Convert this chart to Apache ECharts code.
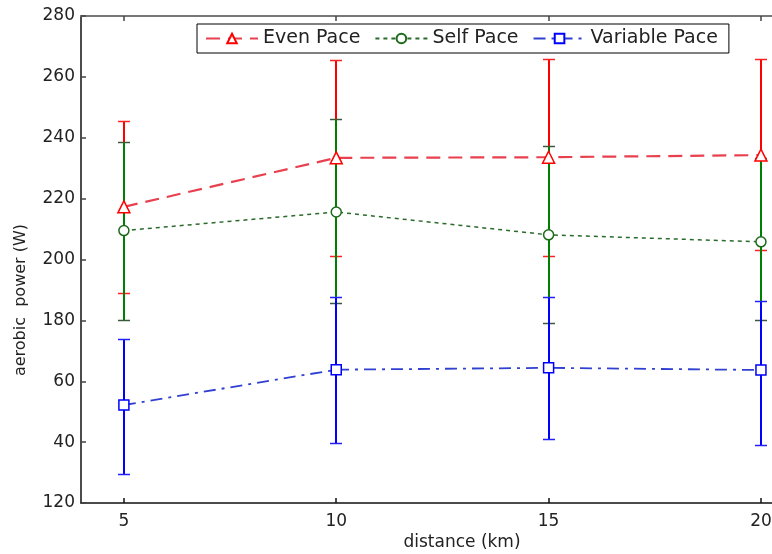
<!DOCTYPE html>
<html>
<head>
<meta charset="utf-8">
<script src="https://cdn.jsdelivr.net/npm/echarts@6/dist/echarts.min.js"></script>
<style>html,body{margin:0;padding:0;background:#fff;overflow:hidden;}#c{width:772px;height:554px;}</style>
</head>
<body>
<div id="c"></div>
<script>
var distances = [5, 10, 15, 20];
var evenPace = [217.3, 233.4, 233.6, 234.3];
var evenLow  = [189.0, 201.3, 201.2, 203.0];
var evenHigh = [245.6, 265.4, 266.0, 266.0];
var selfPace = [209.5, 215.6, 208.1, 205.8];
var selfLow  = [180.1, 185.7, 179.1, 180.1];
var selfHigh = [238.7, 246.2, 237.3, 233.5];
var variablePace = [152.2, 163.8, 164.4, 163.7];
var variableLow  = [129.5, 139.7, 141.0, 139.0];
var variableHigh = [173.9, 187.7, 187.7, 186.5];
var xTickValues = [5, 10, 15, 20];
var yTickValues = [120, 140, 160, 180, 200, 220, 240, 260, 280];
var yTickLabels = ['120', '40', '60', '180', '200', '220', '240', '260', '280'];
var seriesNames = ['Even Pace', 'Self Pace', 'Variable Pace'];

var FONT = '"DejaVu Sans", "Liberation Sans", Arial, sans-serif';

function pts(ys) { return distances.map(function (x, i) { return [x, ys[i]]; }); }
function errData(lo, hi) { return distances.map(function (x, i) { return [x, lo[i], hi[i]]; }); }

function errSeries(name, lo, hi, color, capColor) {
  return {
    type: 'custom',
    name: name + ' err',
    data: errData(lo, hi),
    silent: true,
    z: 2,
    renderItem: function (params, api) {
      var x = api.value(0);
      var pLo = api.coord([x, api.value(1)]);
      var pHi = api.coord([x, api.value(2)]);
      var cx = Math.round(pLo[0]);
      var yHi = Math.round(pHi[1]) + 0.5;
      var yLo = Math.round(pLo[1]) + 0.5;
      var hw = 6;
      return {
        type: 'group',
        children: [
          { type: 'line', shape: { x1: cx, y1: yLo, x2: cx, y2: yHi }, style: { stroke: color, lineWidth: 2 } },
          { type: 'line', shape: { x1: cx - hw, y1: yHi, x2: cx + hw, y2: yHi }, style: { stroke: capColor, lineWidth: 1.5 } },
          { type: 'line', shape: { x1: cx - hw, y1: yLo, x2: cx + hw, y2: yLo }, style: { stroke: capColor, lineWidth: 1.5 } }
        ]
      };
    }
  };
}

var chart = echarts.init(document.getElementById('c'), null, { renderer: 'canvas' });
chart.setOption({
  animation: false,
  backgroundColor: '#fff',
  grid: { left: 81, right: 0, top: 16, bottom: 51, containLabel: false, outerBoundsMode: 'none' },
  legend: {
    left: 197, top: 24,
    orient: 'horizontal',
    backgroundColor: '#fff',
    borderColor: '#000', borderWidth: 1, borderRadius: 0,
    padding: [5, 11, 5, 8],
    itemWidth: 52, itemHeight: 12, itemGap: 14,
    data: seriesNames,
    textStyle: { fontFamily: FONT, fontSize: 19, color: '#222' }
  },
  xAxis: [{
    type: 'value', min: 3.99, max: 20.26, position: 'bottom',
    axisLine: { show: true, onZero: false, lineStyle: { color: '#111', width: 1.5 } },
    axisTick: { show: true, inside: true, length: 5, customValues: xTickValues, lineStyle: { color: '#111', width: 1.5 } },
    axisLabel: { show: true, customValues: xTickValues, fontFamily: FONT, fontSize: 17, color: '#222', margin: 10, hideOverlap: false },
    splitLine: { show: false }
  }, {
    type: 'value', min: 3.99, max: 20.26, position: 'top',
    axisLine: { show: true, onZero: false, lineStyle: { color: '#777', width: 2 } },
    axisTick: { show: true, inside: true, length: 5, customValues: xTickValues, lineStyle: { color: '#444', width: 1.5 } },
    axisLabel: { show: false },
    splitLine: { show: false }
  }],
  yAxis: {
    type: 'value', min: 120, max: 280, interval: 20,
    axisLine: { show: true, onZero: false, lineStyle: { color: '#111', width: 1.5 } },
    axisTick: { show: true, inside: true, length: 5, lineStyle: { color: '#444', width: 1.5 } },
    axisLabel: {
      fontFamily: FONT, fontSize: 17, color: '#222', margin: 6,
      formatter: function (v) { var i = yTickValues.indexOf(v); return i >= 0 ? yTickLabels[i] : ''; }
    },
    splitLine: { show: false }
  },
  graphic: [
    { type: 'text', x: 21, y: 300, rotation: Math.PI / 2,
      style: { text: 'aerobic  power (W)', font: '16px ' + FONT, fill: '#222', align: 'center', verticalAlign: 'middle' } },
    { type: 'text', x: 462, y: 543,
      style: { text: 'distance (km)', font: '17px ' + FONT, fill: '#222', align: 'center', verticalAlign: 'middle' } }
  ],
  series: [
    errSeries('Even Pace', evenLow, evenHigh, '#ff0000', '#ff2020'),
    errSeries('Self Pace', selfLow, selfHigh, '#008000', '#3a5a3a'),
    errSeries('Variable Pace', variableLow, variableHigh, '#0000ff', '#2020ff'),
    {
      name: 'Even Pace', type: 'line', data: pts(evenPace), z: 3,
      symbol: 'triangle', symbolSize: 12,
      itemStyle: { color: '#fff', borderColor: '#ff0000', borderWidth: 1.5 },
      lineStyle: { color: '#e8404e', width: 2.2, type: [14, 8] }
    },
    {
      name: 'Self Pace', type: 'line', data: pts(selfPace), z: 3,
      symbol: 'circle', symbolSize: 10,
      itemStyle: { color: '#fff', borderColor: '#1a6a1a', borderWidth: 1.5 },
      lineStyle: { color: '#2a6a2a', width: 1.5, type: [4, 4] }
    },
    {
      name: 'Variable Pace', type: 'line', data: pts(variablePace), z: 3,
      symbol: 'rect', symbolSize: 10,
      itemStyle: { color: '#fff', borderColor: '#0000ff', borderWidth: 1.5 },
      lineStyle: { color: '#3040d0', width: 1.8, type: [12, 6, 3, 6] }
    }
  ]
});
</script>
</body>
</html>
